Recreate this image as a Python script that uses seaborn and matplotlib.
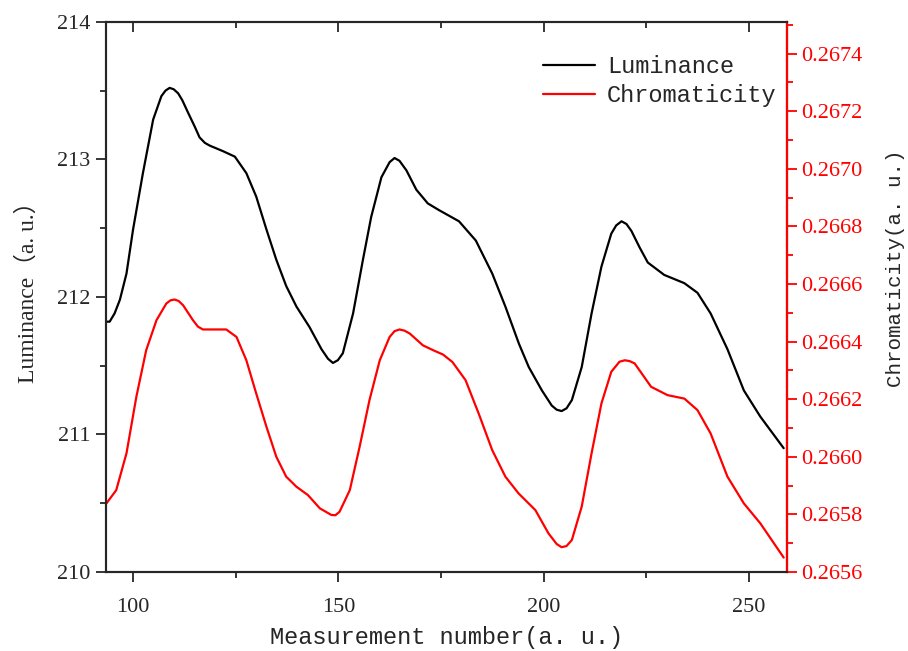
import numpy as np
import pandas as pd
import seaborn as sns
import matplotlib.pyplot as plt
from matplotlib.ticker import MultipleLocator, FormatStrFormatter

# luminance curve (left axis)
lum_x = [93.4, 94.3, 95.5, 96.8, 98.4, 100.0, 102.4, 104.9, 106.9, 107.9,
         108.9, 109.9, 111.0, 112.0, 113.4, 115.0, 116.2, 117.5, 118.7, 121.9,
         124.8, 127.6, 130.0, 132.5, 134.9, 137.3, 139.8, 143.0, 145.9, 147.5,
         148.7, 149.9, 151.1, 153.6, 156.0, 158.0, 160.5, 162.5, 163.7, 164.9,
         166.6, 169.0, 171.8, 174.6, 179.4, 183.5, 187.5, 190.7, 194.0, 196.4,
         199.6, 202.0, 203.2, 204.4, 205.6, 206.9, 209.3, 211.7, 214.1, 216.5,
         217.7, 219.0, 220.2, 221.4, 223.4, 225.4, 229.4, 234.3, 237.5, 240.7,
         244.8, 248.8, 252.8, 258.5]
lum_y = [211.82, 211.82, 211.88, 211.98, 212.17, 212.49, 212.90, 213.29, 213.46, 213.50,
         213.52, 213.51, 213.48, 213.43, 213.34, 213.24, 213.16, 213.12, 213.10, 213.06,
         213.02, 212.90, 212.73, 212.49, 212.27, 212.08, 211.93, 211.78, 211.62, 211.55,
         211.52, 211.54, 211.59, 211.88, 212.27, 212.58, 212.87, 212.98, 213.01, 212.99,
         212.92, 212.78, 212.68, 212.63, 212.55, 212.41, 212.17, 211.93, 211.66, 211.49,
         211.32, 211.21, 211.18, 211.17, 211.19, 211.25, 211.49, 211.88, 212.22, 212.46,
         212.52, 212.55, 212.53, 212.48, 212.36, 212.25, 212.16, 212.10, 212.03, 211.88,
         211.62, 211.32, 211.13, 210.90]

# chromaticity curve (right axis)
chrom_x = [93.4, 95.9, 98.4, 100.8, 103.2, 105.7, 108.1, 109.1, 110.1, 111.1,
           112.2, 114.6, 115.8, 117.0, 119.9, 122.7, 125.2, 127.6, 130.0, 132.5,
           134.9, 137.3, 139.8, 142.6, 145.5, 148.3, 149.3, 150.3, 152.8, 155.2,
           157.6, 160.1, 162.5, 163.7, 164.9, 166.1, 167.4, 170.6, 173.1, 175.5,
           177.8, 181.0, 184.2, 187.5, 190.7, 193.9, 198.0, 201.2, 203.2, 204.4,
           205.6, 206.9, 209.3, 211.7, 214.1, 216.5, 218.5, 219.8, 221.0, 222.2,
           226.2, 230.2, 234.3, 237.5, 240.7, 244.8, 248.8, 252.8, 258.5]
chrom_y = [0.265836, 0.265884, 0.266012, 0.266208, 0.266370, 0.266474, 0.266532, 0.266543, 0.266546, 0.266541,
           0.266526, 0.266474, 0.266452, 0.266442, 0.266442, 0.266442, 0.266416, 0.266335, 0.266220, 0.266104,
           0.266000, 0.265931, 0.265896, 0.265867, 0.265821, 0.265798, 0.265797, 0.265809, 0.265884, 0.266035,
           0.266197, 0.266335, 0.266416, 0.266436, 0.266442, 0.266438, 0.266428, 0.266387, 0.266370, 0.266355,
           0.266329, 0.266266, 0.266150, 0.266023, 0.265931, 0.265873, 0.265815, 0.265734, 0.265697, 0.265686,
           0.265690, 0.265711, 0.265827, 0.266012, 0.266185, 0.266295, 0.266330, 0.266335, 0.266332, 0.266324,
           0.266243, 0.266214, 0.266202, 0.266162, 0.266081, 0.265931, 0.265838, 0.265769, 0.265650]

sns.set_style("ticks")
plt.rcParams['font.family'] = ['Liberation Serif', 'Noto Sans CJK SC']
plt.rcParams['axes.linewidth'] = 1.5
plt.rcParams['lines.solid_joinstyle'] = 'round'

fig = plt.figure(figsize=(9.08, 6.51), dpi=100)
ax = fig.add_axes([0.1167, 0.1214, 0.75, 0.845])
ax2 = ax.twinx()

df_l = pd.DataFrame({'x': lum_x, 'y': lum_y})
df_c = pd.DataFrame({'x': chrom_x, 'y': chrom_y})
sns.lineplot(data=df_l, x='x', y='y', ax=ax, color='black', linewidth=1.6, label='Luminance', legend=False)
sns.lineplot(data=df_c, x='x', y='y', ax=ax2, color='red', linewidth=1.6, label='Chromaticity', legend=False)

ax.set_xlim(93.4, 259.3)
ax.set_ylim(210, 214)
ax2.set_ylim(0.2656, 0.26751)

ax.xaxis.set_major_locator(MultipleLocator(50))
ax.xaxis.set_minor_locator(MultipleLocator(25))
ax.yaxis.set_major_locator(MultipleLocator(1))
ax.yaxis.set_minor_locator(MultipleLocator(0.5))
ax2.yaxis.set_major_locator(MultipleLocator(0.0002))
ax2.yaxis.set_minor_locator(MultipleLocator(0.0001))
ax2.yaxis.set_major_formatter(FormatStrFormatter('%.4f'))

ax.tick_params(axis='both', which='major', direction='out', length=7, width=1.3, labelsize=16)
ax.tick_params(axis='both', which='minor', direction='out', length=4, width=1.3)
ax.tick_params(axis='x', which='both', top=True)
ax.tick_params(axis='x', which='major', pad=12)
ax.tick_params(axis='y', which='major', pad=4)
# top ticks point inward
for t in ax.xaxis.get_major_ticks():
    t.tick2line.set_marker(3)
for t in ax.xaxis.get_minor_ticks():
    t.tick2line.set_marker(3)

ax2.tick_params(axis='y', which='major', direction='out', length=7, width=1.3,
                colors='red', labelsize=16)
ax2.tick_params(axis='y', which='minor', direction='out', length=4, width=1.3, colors='red')
ax2.spines['right'].set_color('red')
ax2.spines['right'].set_linewidth(1.6)

ax.set_xlabel('Measurement number(a. u.)', family=['Liberation Mono'], fontsize=17, labelpad=6)
ax.set_ylabel('Luminance（a. u.）', family=['Liberation Serif', 'Noto Sans CJK SC'], fontsize=17)
ax.yaxis.set_label_coords(-0.098, 0.52)
ax2.set_ylabel('Chromaticity(a. u.)', family=['Liberation Mono'], fontsize=15)
ax2.yaxis.set_label_coords(1.145, 0.553)

h1, l1 = ax.get_legend_handles_labels()
h2, l2 = ax2.get_legend_handles_labels()
ax.legend(h1 + h2, l1 + l2, loc='upper left', bbox_to_anchor=(0.642, 0.94),
          frameon=False, borderpad=0, borderaxespad=0, handlelength=2.2,
          handletextpad=0.5, labelspacing=0.25,
          prop=dict(family='Liberation Mono', size=17))

fig.savefig('out.png', dpi=100)
